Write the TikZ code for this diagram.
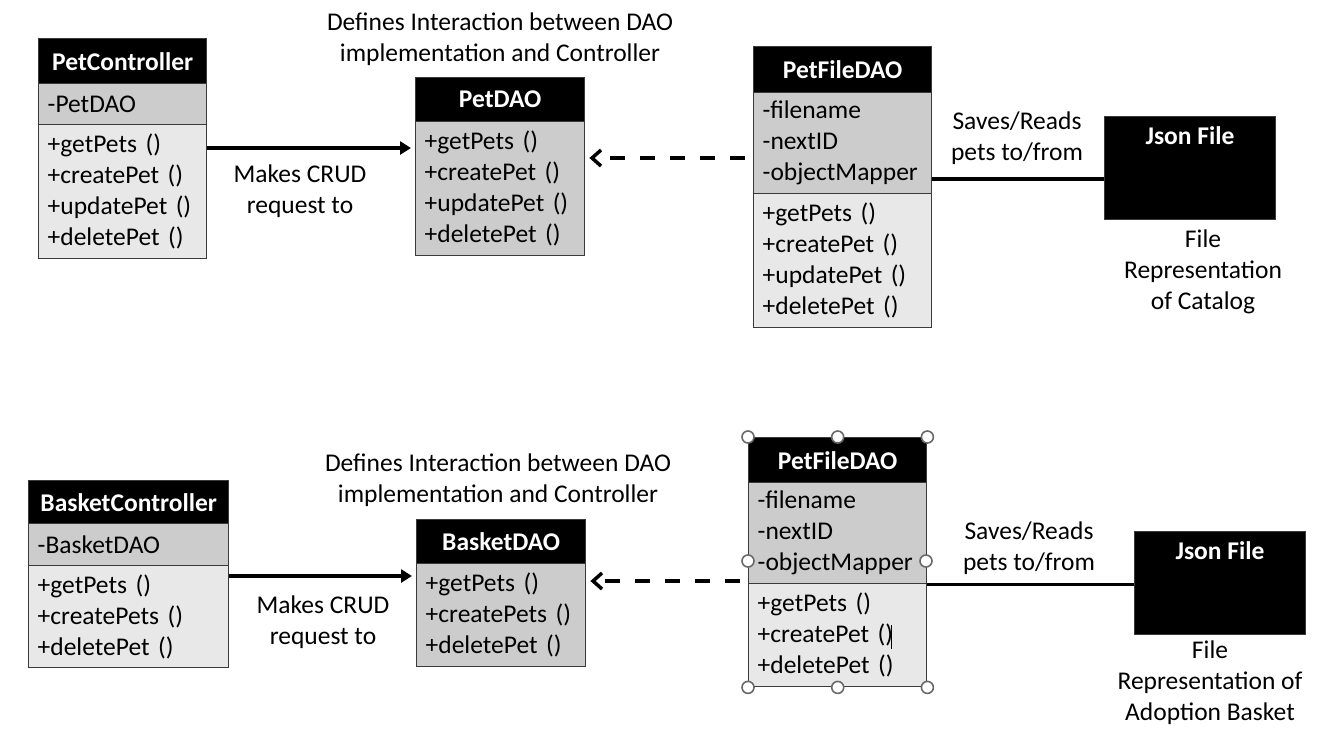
\documentclass[tikz,border=0pt]{standalone}
\usepackage{fontspec}
\setmainfont{Carlito}
\usetikzlibrary{arrows.meta}
\definecolor{bord}{HTML}{3A3A3A}
\definecolor{attrgray}{HTML}{CCCCCC}
\definecolor{methgray}{HTML}{E8E8E8}
\definecolor{handlegray}{HTML}{6A6A6A}
\tikzset{
  hdr/.style={draw=bord, line width=1.4pt, fill=black, text=white, anchor=north west,
    inner sep=0pt, align=center, font=\bfseries\fontsize{25.5}{31}\selectfont},
  comp/.style={draw=bord, line width=1.4pt, anchor=north west, inner xsep=9pt, inner ysep=0pt,
    align=left, font=\fontsize{25.5}{31}\selectfont},
  lbl/.style={align=center, inner sep=0pt, font=\fontsize{25.5}{31}\selectfont},
  solidarr/.style={line width=3.5pt, -{Triangle[length=11pt,width=13pt]}, shorten >=4pt},
  dasharr/.style={line width=3.5pt, dash pattern=on 15pt off 15pt, -{Straight Barb[length=9pt,width=16pt,line width=3.5pt]}, shorten >=4pt, shorten <=8pt},
  plain/.style={line width=3.5pt},
  jsonbox/.style={draw=bord, line width=1pt, fill=black, anchor=north west, inner sep=0pt},
  jsonlbl/.style={text=white, anchor=north, inner sep=0pt, font=\bfseries\fontsize{25.5}{31}\selectfont},
  handle/.style={circle, draw=handlegray, fill=white, line width=1.6pt, minimum size=12pt, inner sep=0pt},
}
\begin{document}
\begin{tikzpicture}[x=1pt,y=-1pt]
\useasboundingbox[fill=white] (0,0) rectangle (1334,748);

% ---------------- top row ----------------
\node[lbl] (t1) at (500,39) {Defines Interaction between DAO\\implementation and Controller};

\node[hdr, minimum width=168pt, minimum height=45pt] (pch) at (38,38) {PetController};
\node[comp, fill=attrgray, text width=150pt, minimum height=41pt] (pca) at (38,83) {-PetDAO};
\node[comp, fill=methgray, text width=150pt, minimum height=134pt] (pcm) at (38,124)
  {+getPets ()\\+createPet ()\\+updatePet ()\\+deletePet ()};

\node[hdr, minimum width=169pt, minimum height=44pt] (pdh) at (415,77) {PetDAO};
\node[comp, fill=attrgray, text width=151pt, minimum height=134pt] (pdm) at (415,121)
  {+getPets ()\\+createPet ()\\+updatePet ()\\+deletePet ()};

\node[hdr, minimum width=178pt, minimum height=46pt] (pfh) at (753,46) {PetFileDAO};
\node[comp, fill=attrgray, text width=160pt, minimum height=101pt] (pfa) at (753,92)
  {-filename\\-nextID\\-objectMapper};
\node[comp, fill=methgray, text width=160pt, minimum height=134pt] (pfm) at (753,193)
  {+getPets ()\\+createPet ()\\+updatePet ()\\+deletePet ()};

\node[jsonbox, minimum width=171pt, minimum height=103pt] (js) at (1104,116) {};
\node[jsonlbl] (jsl) at ([yshift=-10pt]js.north) {Json File};

\node[lbl] (crud1) at (300,191) {Makes CRUD\\request to};
\node[lbl] (sr1) at (1017,138) {Saves/Reads\\pets to/from};
\node[lbl] (fr1) at (1203,272) {File\\Representation\\of Catalog};

\coordinate (a1) at ([yshift=-24pt]pcm.north east);
\draw[solidarr] (a1) -- (a1 -| pdm.west);
\coordinate (d1) at ([yshift=-66pt]pfa.north west);
\draw[dasharr] (d1) -- (d1 -| pdm.east);
\coordinate (l1) at ([yshift=-87pt]pfa.north east);
\draw[plain] (l1) -- (l1 -| js.west);

% ---------------- bottom row ----------------
\node[lbl] (t2) at (498,480) {Defines Interaction between DAO\\implementation and Controller};

\node[hdr, minimum width=200pt, minimum height=43pt] (bch) at (28,480) {BasketController};
\node[comp, fill=attrgray, text width=182pt, minimum height=42pt] (bca) at (28,523) {-BasketDAO};
\node[comp, fill=methgray, text width=182pt, minimum height=102pt] (bcm) at (28,565)
  {+getPets ()\\+createPets ()\\+deletePet ()};

\node[hdr, minimum width=169pt, minimum height=44pt] (bdh) at (416,519) {BasketDAO};
\node[comp, fill=attrgray, text width=151pt, minimum height=103pt] (bdm) at (416,563)
  {+getPets ()\\+createPets ()\\+deletePet ()};

\node[hdr, minimum width=178pt, minimum height=45pt] (qfh) at (748,437) {PetFileDAO};
\node[comp, fill=attrgray, text width=160pt, minimum height=101pt] (qfa) at (748,482)
  {-filename\\-nextID\\-objectMapper};
\node[comp, fill=methgray, text width=160pt, minimum height=103pt] (qfm) at (748,583)
  {+getPets ()\\+createPet ()\\+deletePet ()};

\node[jsonbox, minimum width=171pt, minimum height=103pt] (js2) at (1134,531) {};
\node[jsonlbl] (jsl2) at ([yshift=-10pt]js2.north) {Json File};

\node[lbl] (crud2) at (323,622) {Makes CRUD\\request to};
\node[lbl] (sr2) at (1029,548) {Saves/Reads\\pets to/from};
\node[lbl] (fr2) at (1210,683) {File\\Representation of\\Adoption Basket};

\coordinate (a2) at ([yshift=-11pt]bcm.north east);
\draw[solidarr] (a2) -- (a2 -| bdm.west);
\coordinate (d2) at ([yshift=2pt]qfm.north west);
\draw[dasharr] (d2) -- (d2 -| bdm.east);
\draw[plain] (qfa.south east) -- (qfa.south east -| js2.west);

% selection handles and text cursor on the lower PetFileDAO
\draw[line width=0.8pt] (891,625) -- (891,649);
\node[handle] (h1) at (qfh.north west) {};
\node[handle] (h2) at (qfh.north) {};
\node[handle] (h3) at (qfh.north east) {};
\node[handle] (h4) at (748,561) {};
\node[handle] (h5) at (926,561) {};
\node[handle] (h6) at (qfm.south west) {};
\node[handle] (h7) at (qfm.south) {};
\node[handle] (h8) at (qfm.south east) {};
\end{tikzpicture}
\end{document}
